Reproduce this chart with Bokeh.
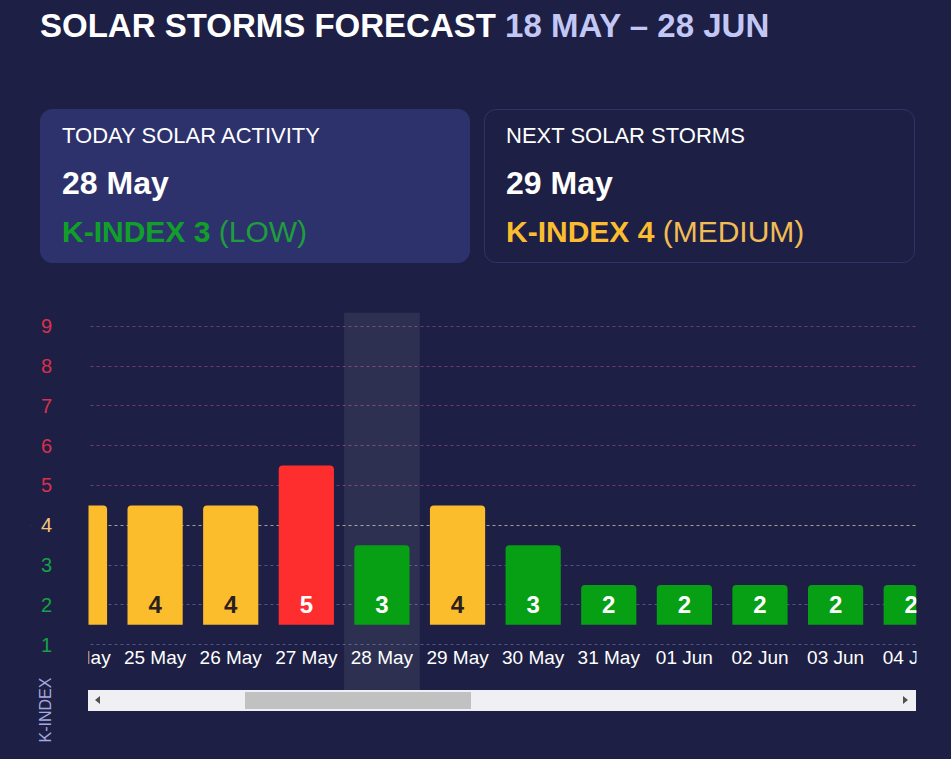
from bokeh.plotting import figure
from bokeh.models import Range1d, Grid, FixedTicker, Label, ColumnDataSource, BoxAnnotation, Div
from bokeh.layouts import column
from bokeh.core.properties import value
from bokeh.embed import file_html
from bokeh.resources import INLINE

# ---------------- data ----------------
dates = ["24 May", "25 May", "26 May", "27 May", "28 May", "29 May", "30 May",
         "31 May", "01 Jun", "02 Jun", "03 Jun", "04 Jun"]
kindex = [4, 4, 4, 5, 3, 4, 3, 2, 2, 2, 2, 2]
today = "28 May"
levels = [1, 2, 3, 4, 5, 6, 7, 8, 9]
title_main = "SOLAR STORMS FORECAST"
title_range = "18 MAY \u2013 28 JUN"
card_today = ("TODAY SOLAR ACTIVITY", "28 May", "K-INDEX 3", "(LOW)")
card_next = ("NEXT SOLAR STORMS", "29 May", "K-INDEX 4", "(MEDIUM)")

BG = "#1d2044"
FONT = "Liberation Sans"
GREEN, YELLOW, RED = "#07a014", "#fbbd2c", "#ff2e2e"


def bar_color(k):
    return GREEN if k <= 3 else (YELLOW if k == 4 else RED)


def label_color(k):
    return "#16a047" if k <= 3 else ("#f5c678" if k == 4 else "#dc2f4c")


def grid_color(k):
    return "#50558a" if k <= 3 else ("#a89f8c" if k == 4 else "#7a396d")


# ---------------- header ----------------
def ct(center, fs):
    return center - 0.4885 * fs


def card(left, width, bg, border, texts, col_a, col_b):
    l1, l2, l3a, l3b = texts
    return (
        f'<div style="position:absolute;box-sizing:border-box;left:{left}px;top:109px;width:{width}px;height:154px;'
        f'background:{bg};border:1px solid {border};border-radius:12px;"></div>'
        f'<div style="position:absolute;left:{left+22}px;top:{ct(136,22):.1f}px;font:400 22px/1 \'{FONT}\';color:#ffffff;white-space:nowrap;">{l1}</div>'
        f'<div style="position:absolute;left:{left+22}px;top:{ct(182.5,32):.1f}px;font:700 32px/1 \'{FONT}\';color:#ffffff;white-space:nowrap;">{l2}</div>'
        f'<div style="position:absolute;left:{left+22}px;top:{ct(231.7,30):.1f}px;font:400 30px/1 \'{FONT}\';white-space:nowrap;">'
        f'<span style="font-weight:700;color:{col_a};">{l3a}</span> <span style="color:{col_b};">{l3b}</span></div>'
    )


header_html = (
    f'<div style="position:relative;width:951px;height:290px;background:{BG};overflow:visible;">'
    f'<div style="position:absolute;left:40px;top:{ct(25.3,33):.1f}px;font:700 33px/1 \'{FONT}\';color:#ffffff;white-space:nowrap;">'
    f'{title_main} <span style="color:#c3c7f6;">{title_range}</span></div>'
    + card(40, 430, "#2d326d", "#2d326d", card_today, "#10a02a", "#1d9d3c")
    + card(484, 431, BG, "#2f3466", card_next, "#fbbd2f", "#f2bc55")
    + '</div>'
)
header = Div(text=header_html, width=951, height=290, margin=0)

# ---------------- chart ----------------
idx = list(range(len(dates)))
src = ColumnDataSource(dict(
    x=idx,
    top=[k + 0.5 for k in kindex],
    color=[bar_color(k) for k in kindex],
    lbl=[str(k) for k in kindex],
    lblcol=["#2b2020" if k == 4 else "#ffffff" for k in kindex],
    date=dates,
))

X0, X_PLOT, X1 = -0.648, 0.119, 11.07   # frame left, visible plot-area left, frame right
p = figure(width=951, height=400, x_range=Range1d(X0, X1), y_range=Range1d(-0.157, 9.352),
           output_backend="svg", toolbar_location=None, x_axis_location=None, y_axis_location=None,
           min_border_left=30, min_border_right=35, min_border_top=22, min_border_bottom=0,
           background_fill_color=BG, border_fill_color=BG, outline_line_color=None, margin=0)
p.center = [r for r in p.center if not isinstance(r, Grid)]

for group in ([1, 2, 3], [4], [5, 6, 7, 8, 9]):
    g = Grid(dimension=1, ticker=FixedTicker(ticks=group), grid_line_color=grid_color(group[0]),
             grid_line_dash="3 3", grid_line_width=1)
    p.add_layout(g)

t = dates.index(today)
p.add_layout(BoxAnnotation(left=t - 0.5, right=t + 0.5, fill_color="#ffffff", fill_alpha=0.075,
                           line_color=None, level="underlay"))

p.vbar(x="x", width=0.73, bottom=1.5, top="top", fill_color="color", line_color=None,
       border_radius=(4, 4, 0, 0), source=src)
p.text(x="x", y=2.0, text="lbl", text_color="lblcol", text_font=value(FONT), text_font_style="bold",
       text_font_size="24px", text_align="center", text_baseline="middle", source=src)
p.text(x="x", y=0.673, text="date", text_color="#ffffff", text_font=value(FONT),
       text_font_size="19px", text_align="center", text_baseline="middle", source=src)

# mask the scrolled-out part left of the plotting area (where the y labels sit)
p.add_layout(BoxAnnotation(left=X0, right=X_PLOT, fill_color=BG, fill_alpha=1.0, line_color=None))

for lv in levels:
    p.add_layout(Label(x=16, x_units="screen", y=lv, text=str(lv), text_color=label_color(lv),
                       text_font=FONT, text_font_size="20px", text_align="center",
                       text_baseline="middle"))

# ---------------- footer (scrollbar + axis name) ----------------
footer_html = (
    f'<div style="position:relative;width:951px;height:69px;background:{BG};overflow:visible;">'
    '<div style="position:absolute;left:88px;top:0px;width:828px;height:21px;background:#f0f0f4;"></div>'
    '<div style="position:absolute;left:245px;top:2px;width:226px;height:17px;background:#c1c1c1;"></div>'
    '<div style="position:absolute;left:95px;top:6px;width:0;height:0;border-top:4px solid transparent;'
    'border-bottom:4px solid transparent;border-right:5px solid #505050;"></div>'
    '<div style="position:absolute;left:903px;top:6px;width:0;height:0;border-top:4px solid transparent;'
    'border-bottom:4px solid transparent;border-left:5px solid #505050;"></div>'
    f'<div style="position:absolute;left:46px;top:20px;transform:translate(-50%,-50%) rotate(-90deg);'
    f'font:400 16px/1 \'{FONT}\';color:#a5a9de;white-space:nowrap;">K-INDEX</div>'
    '</div>'
)
footer = Div(text=footer_html, width=951, height=69, margin=0)

layout = column(header, p, footer, spacing=0, styles={"background": BG})
open("out.html", "w").write(file_html(layout, INLINE))
